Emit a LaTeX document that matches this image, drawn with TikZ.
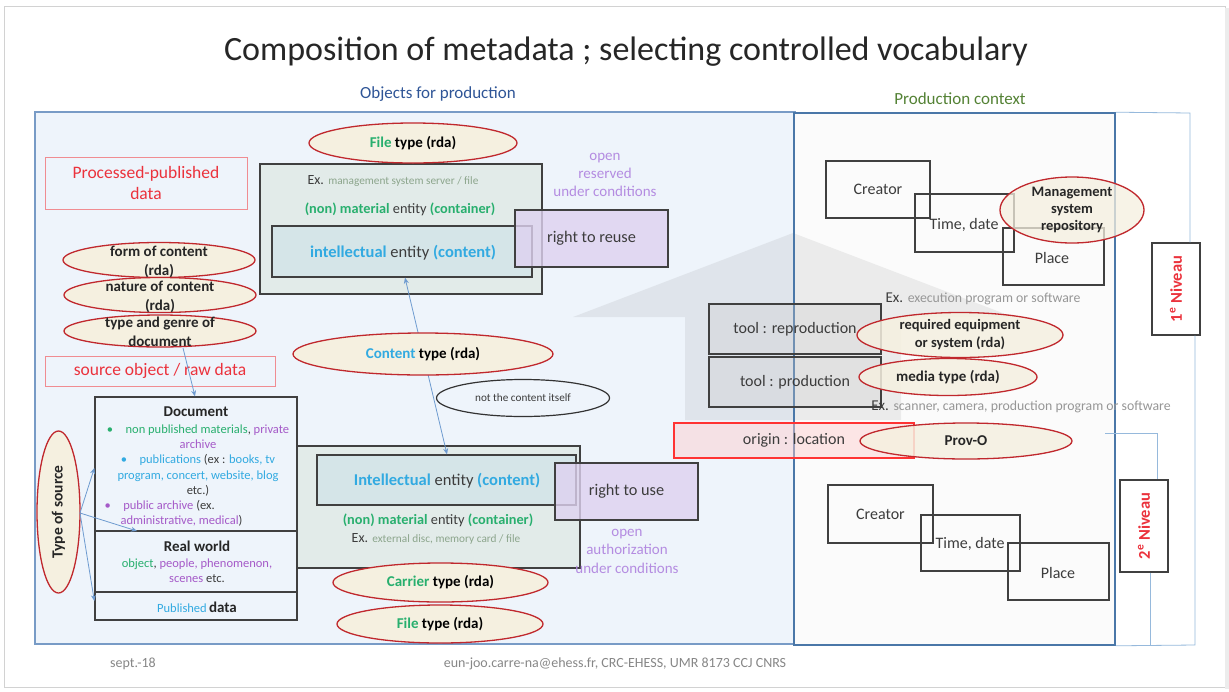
\documentclass[tikz,border=0pt]{standalone}
\usepackage{fontspec}
\setmainfont{Carlito}
\usetikzlibrary{shapes.geometric,arrows.meta}
\newcommand\fsz[2]{\fontsize{#1}{#2}\selectfont}
\definecolor{ellred}{RGB}{192,40,45}
\definecolor{beige}{RGB}{245,240,224}
\definecolor{contfill}{RGB}{226,235,233}
\definecolor{intfill}{RGB}{213,229,232}
\definecolor{lavfill}{RGB}{222,210,240}
\definecolor{redtxt}{RGB}{235,50,60}
\definecolor{greentxt}{RGB}{40,175,110}
\definecolor{cyantxt}{RGB}{50,170,225}
\definecolor{purpletxt}{RGB}{165,90,200}
\definecolor{lavtxt}{RGB}{180,140,225}
\definecolor{darktxt}{RGB}{60,60,60}
\definecolor{greytxt}{RGB}{150,150,150}
\definecolor{exgreen}{RGB}{140,165,140}
\definecolor{titleblue}{RGB}{47,85,151}
\definecolor{ctxgreen}{RGB}{84,130,53}
\definecolor{leftfill}{RGB}{238,244,251}
\definecolor{leftline}{RGB}{120,155,198}
\definecolor{rightline}{RGB}{74,119,168}
\definecolor{thinblue}{RGB}{150,185,220}
\definecolor{arrblue}{RGB}{110,155,208}
\definecolor{redbox}{RGB}{240,140,145}
\tikzset{
  box/.style={draw=black!75, line width=1.3pt, inner sep=0pt},
  redframe/.style={draw=redbox, line width=1pt, inner sep=0pt, text=redtxt, align=center, font=\fsz{17.5}{21}},
  ell/.style={ellipse, draw=ellred, line width=1.3pt, fill=beige, inner sep=0pt},
  elltxt/.style={font=\bfseries\fsz{15}{19}, align=center, text=black!85},
  arr/.style={-{Stealth[length=6pt,width=5pt]}, draw=arrblue, line width=0.8pt},
  thin/.style={draw=thinblue, line width=0.8pt},
  plain/.style={text=darktxt, font=\fsz{16}{19}},
}
\begin{document}
\begin{tikzpicture}[x=1pt,y=-1pt]
\useasboundingbox (0,0) rectangle (1229,691);
\fill[white] (0,0) rectangle (1229,691);
\draw[gray!35, line width=1pt] (4,6) rectangle (1225,687);
\fill[gray!15] (1225,8) rectangle (1229,689);

% title and headers
\node (title) at (626,52) {\fsz{34}{40}\color{black!85}Composition of metadata ; selecting controlled vocabulary};
\node (objhdr) at (438,94) {\fsz{17}{20}\color{titleblue}Objects for production};
\node (ctxhdr) at (960,99) {\fsz{17}{20}\color{ctxgreen}Production context};

% main frames
\node (leftbox) [draw=leftline, fill=leftfill, line width=1.5pt, minimum width=760pt, minimum height=532pt, inner sep=0pt] at (415,378) {};
\node (rightbox) [draw=rightline, fill=white!97!gray, line width=1.6pt, minimum width=321pt, minimum height=532pt, inner sep=0pt] at (954.5,379) {};

% big grey block arrow
\fill[gray, opacity=0.13] (573,317) -- (793,233) -- (1013,317) -- (901,317) -- (901,420) -- (685,420) -- (685,317) -- cycle;
\draw[rightline, line width=1.6pt] (794,113) -- (794,645);

% outer level lines
\coordinate (o1) at (1190,113);
\coordinate (o2) at (1195,645);
\coordinate (i1) at (1105,433);
\coordinate (i2) at (1157,433);
\coordinate (i3) at (1150,645);
\node (niv1) [draw=black!75, line width=1.3pt, fill=white, minimum width=48pt, minimum height=92pt, inner sep=0pt] at (1176,289) {};
\node (niv2) [draw=black!75, line width=1.3pt, fill=white, minimum width=48pt, minimum height=92pt, inner sep=0pt] at (1144,526) {};
\node (niv1t) [rotate=90, text=redtxt, font=\bfseries\fsz{16.5}{18}] at (niv1.center) {1\textsuperscript{e} Niveau};
\node (niv2t) [rotate=90, text=redtxt, font=\bfseries\fsz{16.5}{18}] at (niv2.center) {2\textsuperscript{e} Niveau};
\draw[thin] (rightbox.north east) -- (o1) -- (o1 |- niv1.north);
\draw[thin] (niv1.south -| o2) -- (o2) -- (rightbox.south east);
\draw[thin] (i1) -- (i2) -- (i2 |- niv2.north);
\draw[thin] (niv2.south -| i3) -- (i3);

% left column
\node (ppd) [redframe, minimum width=202pt, minimum height=52pt] at (146,183) {Processed-published\\data};
\node (form) [ell, minimum width=192pt, minimum height=35pt] at (159,260) {};
\node (nature) [ell, minimum width=192pt, minimum height=35pt] at (160,295) {};
\node (genre) [ell, minimum width=192pt, minimum height=32pt] at (160,331) {};
\node (formt) [elltxt] at (159,262) {form of content\\(rda)};
\node (naturet) [elltxt] at (160,297) {nature of content\\(rda)};
\node (genret) [elltxt] at (160,332) {type and genre of\\document};
\node (sord) [redframe, minimum width=230pt, minimum height=30pt] at (160,371) {source object / raw data};

\node (doc) [box, minimum width=202pt, minimum height=134pt] at (196,464) {};
\node (real) [box, minimum width=202pt, minimum height=61pt] at (196,561.5) {};
\node (pub) [box, minimum width=202pt, minimum height=28pt] at (196,606) {};
\node (doct) [font=\bfseries\fsz{15}{17}, text=black!85] at (196,412) {Document};
\node (docb1) [anchor=north, align=center, font=\fsz{12.5}{15.3}, text=darktxt] at (198,421) {%
\textcolor{greentxt}{\textbullet\quad non published materials}, \textcolor{purpletxt}{private}\\
\textcolor{purpletxt}{archive}\\
\textcolor{cyantxt}{\textbullet\quad publications} (ex : \textcolor{cyantxt}{books, tv}\\
\textcolor{cyantxt}{program, concert, website, blog}\\
etc.)};
\node (docb2) [anchor=north west, align=left, font=\fsz{12.5}{15.3}, text=darktxt] at (101,497) {%
\textcolor{purpletxt}{\textbullet\quad public archive} (ex.\\
\hspace{16pt}\textcolor{purpletxt}{administrative, medical})};
\node (realt) [font=\bfseries\fsz{15}{17}, text=black!85] at (197,546) {Real world};
\node (realb) [align=center, font=\fsz{12.5}{15}, text=darktxt] at (197,571) {\textcolor{greentxt}{object}, \textcolor{purpletxt}{people, phenomenon,}\\\textcolor{purpletxt}{scenes} etc.};
\node (pubt) at (197,607) {\textcolor{cyantxt}{\fsz{12.5}{15}Published} \textcolor{black!85}{\bfseries\fsz{15}{17}data}};

\node (tsrc) [ell, rotate=90, minimum width=162pt, minimum height=43pt] at (58.5,512) {};
\node (tsrct) [rotate=90, elltxt, font=\bfseries\fsz{15.5}{18}] at (tsrc.center) {Type of source};
\coordinate (gs) at (183,348);
\draw[arr] (gs) -- (doc.north -| 195,0);
\coordinate (ts) at (80,513);
\draw[arr] (ts) -- (doc.west |- 0,468);
\draw[arr] (ts) -- (137,531);
\draw[arr] (ts) -- (pub.west |- 0,601);

% top container
\node (cont1) [box, fill=contfill, minimum width=282pt, minimum height=130pt] at (401,229) {};
\node (ex1) [font=\fsz{14}{16}, text=darktxt] at (393,181) {Ex. \textcolor{exgreen}{\fsz{11.3}{13}management system server / file}};
\node (mat1) [font=\fsz{14.3}{17}, text=darktxt] at (400,209) {\textcolor{greentxt}{\bfseries(non) material} entity \textcolor{greentxt}{\bfseries(container)}};
\node (int1) [box, fill=intfill, minimum width=260pt, minimum height=51pt] at (402,251.5) {};
\node (int1t) [font=\fsz{16.5}{19}, text=darktxt] at (403,253) {\textcolor{cyantxt}{\bfseries intellectual} entity \textcolor{cyantxt}{\bfseries(content)}};
\node (filetop) [ell, minimum width=208pt, minimum height=40pt, font=\bfseries\fsz{15}{17}] at (413,143) {\textcolor{greentxt}{File} type (rda)};
\node (reuse) [box, fill=lavfill, fill opacity=0.8, text opacity=1, minimum width=153pt, minimum height=57pt, font=\fsz{16.3}{19}, text=darktxt] at (591.5,238.5) {right to reuse};
\node (open1) [align=center, font=\fsz{15}{18}, text=lavtxt] at (605,175) {open\\reserved\\under conditions};

% bottom container
\node (cont2) [box, fill=contfill, minimum width=283pt, minimum height=122pt] at (438.5,507) {};
\node (int2) [box, fill=intfill, minimum width=259pt, minimum height=50pt] at (446.5,480) {};
\node (int2t) [font=\fsz{16.5}{19}, text=darktxt] at (447,481) {\textcolor{cyantxt}{\bfseries Intellectual} entity \textcolor{cyantxt}{\bfseries(content)}};
\node (mat2) [font=\fsz{14.3}{17}, text=darktxt] at (438,520) {\textcolor{greentxt}{\bfseries(non) material} entity \textcolor{greentxt}{\bfseries(container)}};
\node (ex2) [font=\fsz{14}{16}, text=darktxt] at (436,539) {Ex. \textcolor{exgreen}{\fsz{11.3}{13}external disc, memory card / file}};
\node (use) [box, fill=lavfill, fill opacity=0.8, text opacity=1, minimum width=143pt, minimum height=57pt, font=\fsz{16.3}{19}, text=darktxt] at (626.5,491.5) {right to use};
\node (open2) [align=center, font=\fsz{15}{18.5}, text=lavtxt] at (627,551) {open\\authorization\\under conditions};

\draw[arr, {Stealth[length=6pt,width=5pt]}-{Stealth[length=6pt,width=5pt]}] (int1.south -| 405,0) -- (int2.north -| 447,0);
\node (ctype) [ell, minimum width=260pt, minimum height=42pt, font=\bfseries\fsz{15}{17}] at (423,354) {\textcolor{cyantxt}{Content} type (rda)};
\node (notc) [ellipse, draw=black!80, line width=1.2pt, minimum width=173pt, minimum height=37pt, inner sep=0pt, font=\fsz{11.2}{13}, text=darktxt] at (523,398) {not the content itself};
\node (carrier) [ell, minimum width=215pt, minimum height=39pt, font=\bfseries\fsz{15}{17}] at (440.5,582.5) {\textcolor{greentxt}{Carrier} type (rda)};
\node (filebot) [ell, minimum width=206pt, minimum height=38pt, font=\bfseries\fsz{15}{17}] at (440,624) {\textcolor{greentxt}{File} type (rda)};

% production context, level 1
\node (creator1) [box, line width=1.2pt, minimum width=104pt, minimum height=57pt, plain] at (878,189.5) {Creator};
\node (time1) [box, line width=1.2pt, minimum width=99pt, minimum height=58pt] at (964.5,223) {};
\node (place1) [box, line width=1.2pt, minimum width=101pt, minimum height=57pt] at (1053.5,256.5) {};
\node (time1t) [plain] at (964,225) {Time, date};
\node (place1t) [plain] at (1052,258) {Place};
\node (mgmt) [ell, fill opacity=0.75, text opacity=1, minimum width=144pt, minimum height=66pt, elltxt, font=\bfseries\fsz{14.5}{17}] at (1072,210) {Management\\system\\repository};

\node (exexec) [font=\fsz{15}{17}, text=darktxt] at (983,299) {Ex. \textcolor{greytxt}{\fsz{13.8}{16}execution program or software}};
\node (toolrep) [box, fill=gray!40, fill opacity=0.3, text opacity=1, minimum width=172pt, minimum height=50pt, plain] at (795,329) {tool : reproduction};
\node (toolprod) [box, fill=gray!40, fill opacity=0.3, text opacity=1, minimum width=172pt, minimum height=50pt, plain] at (795,382) {tool : production};
\node (reqeq) [ell, fill opacity=0.85, text opacity=1, minimum width=206pt, minimum height=45pt, elltxt, font=\bfseries\fsz{14.5}{18}] at (960,335) {required equipment\\or system (rda)};
\node (media) [ell, fill opacity=0.85, text opacity=1, minimum width=178pt, minimum height=37pt, elltxt] at (948,377) {media type (rda)};
\node (exscan) [font=\fsz{15}{17}, text=darktxt] at (1021,407) {Ex. \textcolor{greytxt}{\fsz{13.8}{16}scanner, camera, production program or software}};
\node (origin) [draw=red!80, line width=1.2pt, fill=red!20, fill opacity=0.45, text opacity=1, minimum width=240pt, minimum height=35pt, inner sep=0pt, plain] at (794,440.5) {origin : location};
\node (provo) [ell, fill opacity=0.85, text opacity=1, minimum width=212pt, minimum height=36pt, elltxt] at (966,441) {Prov-O};

% production context, level 2
\node (creator2) [box, line width=1.2pt, minimum width=105pt, minimum height=58pt, plain] at (880.5,514) {Creator};
\node (time2) [box, line width=1.2pt, minimum width=99pt, minimum height=56pt] at (970.5,543) {};
\node (place2) [box, line width=1.2pt, minimum width=101pt, minimum height=57pt] at (1058.5,571.5) {};
\node (time2t) [plain] at (970,544) {Time, date};
\node (place2t) [plain] at (1058,573) {Place};

% footer
\node (date) [text=greytxt!90!black, font=\fsz{14}{16}] at (133,664) {sept.-18};
\node (credit) [text=greytxt!90!black, font=\fsz{14}{16}] at (615,664) {eun-joo.carre-na@ehess.fr, CRC-EHESS, UMR 8173 CCJ CNRS};
\end{tikzpicture}
\end{document}
